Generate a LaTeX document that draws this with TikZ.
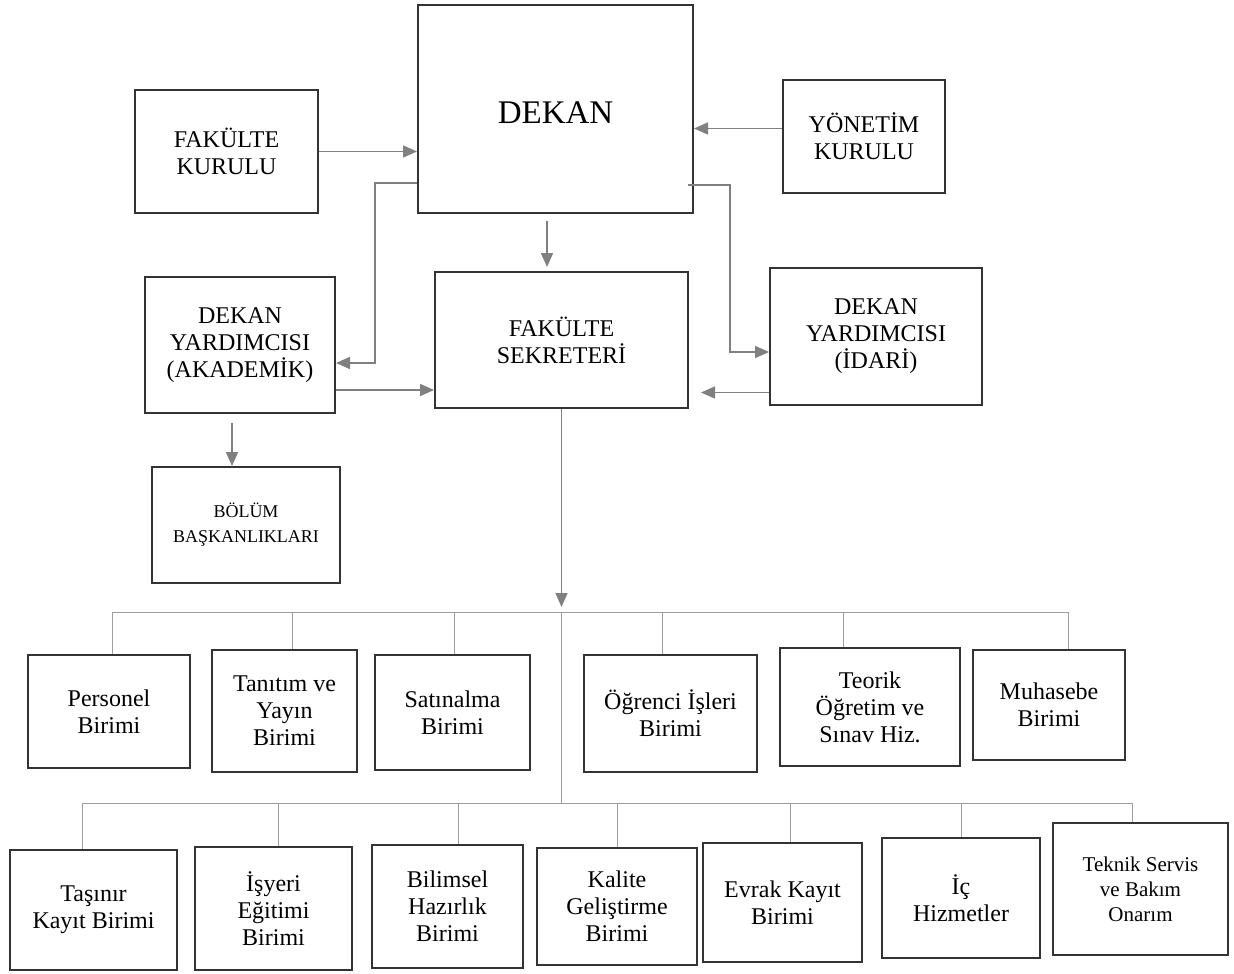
\documentclass[tikz,border=0pt]{standalone}
\usepackage{fontspec}
\setmainfont{Liberation Serif}
\usepackage{tikz}
\usetikzlibrary{arrows.meta}
\definecolor{kenar}{gray}{0.2}
\definecolor{okgri}{gray}{0.5}
\definecolor{dalgri}{gray}{0.62}
\tikzset{
Kutu/.style={
 draw=kenar, 
 line width=1pt, 
 align=center, 
 inner sep=2pt, 
 font=\fontsize{12}{13.5}\selectfont
 },
GriOk/.style={
 draw=okgri, 
 line width=0.8pt, 
 -{Triangle[length=7pt,width=6pt]}
 },
Dal/.style={
 draw=dalgri, 
 line width=0.5pt
 }
}

\begin{document}
\begin{tikzpicture}[x=0.5pt,y=-0.5pt]
\useasboundingbox (0,0) rectangle (1234,973);
% ust kisim
\node[Kutu,minimum width=137.5pt,minimum height=104pt,font=\fontsize{16.5}{18}\selectfont,text height=15pt] (dekan) at (555.5,109) {DEKAN};
\node[Kutu,minimum width=91.5pt,minimum height=61.5pt] (fkurul) at (226.5,151.5) {FAKÜLTE\\KURULU};
\node[Kutu,minimum width=81pt,minimum height=56.5pt] (ykurul) at (864,136.5) {YÖNETİM\\KURULU};
\node[Kutu,minimum width=95pt,minimum height=68pt] (dya) at (240,345) {DEKAN\\YARDIMCISI\\(AKADEMİK)};
\node[Kutu,minimum width=126.5pt,minimum height=68pt] (fsek) at (561.5,340) {FAKÜLTE\\SEKRETERİ};
\node[Kutu,minimum width=106pt,minimum height=68.5pt] (dyi) at (876,336.5) {DEKAN\\YARDIMCISI\\(İDARİ)};
\node[Kutu,minimum width=94pt,minimum height=58pt,font=\fontsize{9}{12.5}\selectfont] (bolum) at (246,525) {BÖLÜM\\BAŞKANLIKLARI};
% birinci sira
\node[Kutu,minimum width=81pt,minimum height=56.5pt] (personel) at (109,711.5) {Personel\\Birimi};
\node[Kutu,minimum width=72.5pt,minimum height=61pt] (tanitim) at (284.5,711) {Tanıtım ve\\Yayın\\Birimi};
\node[Kutu,minimum width=77.5pt,minimum height=57.5pt] (satin) at (452.5,712.5) {Satınalma\\Birimi};
\node[Kutu,minimum width=86.5pt,minimum height=58.5pt] (ogrenci) at (670.5,713.5) {Öğrenci İşleri\\Birimi};
\node[Kutu,minimum width=90pt,minimum height=59pt] (teorik) at (870,707) {Teorik\\Öğretim ve\\Sınav Hiz.};
\node[Kutu,minimum width=76pt,minimum height=55pt] (muhasebe) at (1049,705) {Muhasebe\\Birimi};
% ikinci sira
\node[Kutu,minimum width=83.5pt,minimum height=60pt] (tasinir) at (93.5,910) {Taşınır\\Kayıt Birimi};
\node[Kutu,minimum width=78.5pt,minimum height=61.5pt] (isyeri) at (273.5,908.5) {İşyeri\\Eğitimi\\Birimi};
\node[Kutu,minimum width=75.5pt,minimum height=61.5pt] (bilimsel) at (447.5,906.5) {Bilimsel\\Hazırlık\\Birimi};
\node[Kutu,minimum width=80pt,minimum height=58.5pt] (kalite) at (617,906.5) {Kalite\\Geliştirme\\Birimi};
\node[Kutu,minimum width=79.5pt,minimum height=59.5pt] (evrak) at (782.5,902.5) {Evrak Kayıt\\Birimi};
\node[Kutu,minimum width=79pt,minimum height=60pt] (ic) at (961,898) {İç\\Hizmetler};
\node[Kutu,minimum width=87.5pt,minimum height=66pt,font=\fontsize{10.5}{12.5}\selectfont] (teknik) at (1140.5,889) {Teknik Servis\\ve Bakım\\Onarım};
\coordinate (solk) at (375,363);
\coordinate (sag) at (730,352);
\coordinate (bar1) at (0,612);
\coordinate (bar2) at (0,803);
% oklar
\draw[GriOk] (fkurul.east) -- (fkurul.east -| dekan.west);
\draw[GriOk] ([yshift=4pt]ykurul.west) -- ([yshift=4pt]ykurul.west -| dekan.east);
\draw[GriOk] ([yshift=-37pt]dekan.west) -| (solk) -- (solk -| dya.east);
\draw[GriOk] ([xshift=-3pt,yshift=-38pt]dekan.east) -| (sag) -- (sag -| dyi.west);
\draw[GriOk,shorten <=3.5pt,shorten >=2pt] ([xshift=-4.25pt]dekan.south) -- ([xshift=-4.25pt]dekan.south |- fsek.north);
\draw[GriOk] ([yshift=-22.5pt]dya.east) -- ([yshift=-22.5pt]dya.east -| fsek.west);
\draw[GriOk,shorten >=6pt] ([yshift=-28pt]dyi.west) -- ([yshift=-28pt]dyi.west -| fsek.east);
\draw[GriOk,shorten <=4.5pt] ([xshift=-4pt]dya.south) -- ([xshift=-4pt]dya.south |- bolum.north);
\draw[GriOk,shorten >=2.5pt] (fsek.south) -- (fsek.south |- bar1);
% agac
\draw[Dal] (fsek.south |- bar1) -- (fsek.south |- bar2);
\draw[Dal] ([xshift=1.5pt]personel.north |- bar1) -- ([xshift=9.5pt]muhasebe.north |- bar1);
\draw[Dal] ([xshift=1.5pt]personel.north) -- ([xshift=1.5pt]personel.north |- bar1);
\draw[Dal] ([xshift=4pt]tanitim.north) -- ([xshift=4pt]tanitim.north |- bar1);
\draw[Dal] ([xshift=1pt]satin.north) -- ([xshift=1pt]satin.north |- bar1);
\draw[Dal] ([xshift=-4pt]ogrenci.north) -- ([xshift=-4pt]ogrenci.north |- bar1);
\draw[Dal] ([xshift=-13.5pt]teorik.north) -- ([xshift=-13.5pt]teorik.north |- bar1);
\draw[Dal] ([xshift=9.5pt]muhasebe.north) -- ([xshift=9.5pt]muhasebe.north |- bar1);
\draw[Dal] ([xshift=-5.75pt]tasinir.north |- bar2) -- ([xshift=-4.25pt]teknik.north |- bar2);
\draw[Dal] ([xshift=-5.75pt]tasinir.north) -- ([xshift=-5.75pt]tasinir.north |- bar2);
\draw[Dal] ([xshift=2.25pt]isyeri.north) -- ([xshift=2.25pt]isyeri.north |- bar2);
\draw[Dal] ([xshift=5.25pt]bilimsel.north) -- ([xshift=5.25pt]bilimsel.north |- bar2);
\draw[Dal] (kalite.north) -- (kalite.north |- bar2);
\draw[Dal] ([xshift=3.75pt]evrak.north) -- ([xshift=3.75pt]evrak.north |- bar2);
\draw[Dal] (ic.north) -- (ic.north |- bar2);
\draw[Dal] ([xshift=-4.25pt]teknik.north) -- ([xshift=-4.25pt]teknik.north |- bar2);
\end{tikzpicture}
\end{document}
